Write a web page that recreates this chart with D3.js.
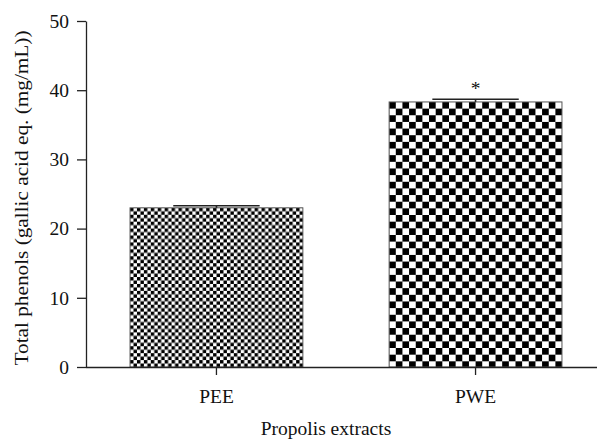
<!DOCTYPE html>
<html>
<head>
<meta charset="utf-8">
<script src="https://cdn.jsdelivr.net/npm/d3@7"></script>
<style>
  html, body { margin: 0; padding: 0; background: #fff; }
  svg { display: block; }
  text { font-family: "Liberation Serif", "Times New Roman", serif; fill: #111; }
</style>
</head>
<body>
<svg id="chart" width="597" height="440"></svg>
<script>
const categories = ["PEE", "PWE"];
const values = [23.0, 38.3];
const errors = [0.3, 0.4];
const significance = ["", "*"];
const yTicks = [0, 10, 20, 30, 40, 50];
const xTitle = "Propolis extracts";
const yTitle = "Total phenols (gallic acid eq. (mg/mL))";

const svg = d3.select("#chart");
const W = 597, H = 440;
const x0 = 86, yBottom = 367, yTop = 21;
const FS = 19.5;

const x = d3.scaleBand().domain(categories).range([x0, 606]).paddingInner(0.333).paddingOuter(0.17);
const y = d3.scaleLinear().domain([0, 50]).range([yBottom, yTop]);

// patterns
const defs = svg.append("defs");
const cells = [3.46, 6.65];
categories.forEach((c, i) => {
  const s = cells[i];
  const p = defs.append("pattern").attr("id", "pat" + i)
    .attr("patternUnits", "userSpaceOnUse")
    .attr("width", 2 * s).attr("height", 2 * s)
    .attr("x", x(c)).attr("y", y(values[i]));
  p.append("rect").attr("width", 2 * s).attr("height", 2 * s).attr("fill", "#fff");
  p.append("rect").attr("x", 0).attr("y", 0).attr("width", s).attr("height", s).attr("fill", "#000");
  p.append("rect").attr("x", s).attr("y", s).attr("width", s).attr("height", s).attr("fill", "#000");
});

// bars
svg.append("g").selectAll("rect").data(categories).join("rect")
  .attr("x", d => x(d)).attr("y", (d, i) => y(values[i]))
  .attr("width", x.bandwidth()).attr("height", (d, i) => y(0) - y(values[i]))
  .attr("fill", (d, i) => `url(#pat${i})`)
  .attr("stroke", "#555").attr("stroke-width", 1);

// error bars
const eg = svg.append("g").attr("stroke", "#222").attr("stroke-width", 1.6);
categories.forEach((c, i) => {
  const cx = x(c) + x.bandwidth() / 2;
  const half = x.bandwidth() / 4;
  eg.append("line").attr("x1", cx).attr("x2", cx).attr("y1", y(values[i])).attr("y2", y(values[i] + errors[i]));
  eg.append("line").attr("x1", cx - half).attr("x2", cx + half).attr("y1", y(values[i] + errors[i])).attr("y2", y(values[i] + errors[i]));
  if (significance[i]) {
    svg.append("text").attr("x", cx).attr("y", y(values[i] + errors[i]) - 4)
      .attr("text-anchor", "middle").attr("font-size", FS).text(significance[i]);
  }
});

// axes
const yAxis = svg.append("g").attr("transform", `translate(${x0},0)`)
  .call(d3.axisLeft(y).tickValues(yTicks).tickSize(9).tickPadding(8).tickSizeOuter(0));
yAxis.selectAll("text").attr("font-size", FS).attr("font-family", "Liberation Serif, serif").attr("fill", "#111");
yAxis.selectAll("line, path").attr("stroke", "#222").attr("stroke-width", 1.3);

const xAxis = svg.append("g").attr("transform", `translate(0,${yBottom})`)
  .call(d3.axisBottom(x).tickSize(8).tickPadding(14).tickSizeOuter(0));
xAxis.select("path").attr("d", `M${x0},0.5H${W}`);
xAxis.selectAll("text").attr("font-size", FS).attr("font-family", "Liberation Serif, serif").attr("fill", "#111");
xAxis.selectAll("line, path").attr("stroke", "#222").attr("stroke-width", 1.3);

// titles
svg.append("text").attr("x", 326).attr("y", 435).attr("text-anchor", "middle")
  .attr("font-size", FS).text(xTitle);
svg.append("text").attr("transform", "translate(28,198) rotate(-90)")
  .attr("text-anchor", "middle").attr("font-size", FS)
  .attr("textLength", 335).attr("lengthAdjust", "spacingAndGlyphs").text(yTitle);
</script>
</body>
</html>
